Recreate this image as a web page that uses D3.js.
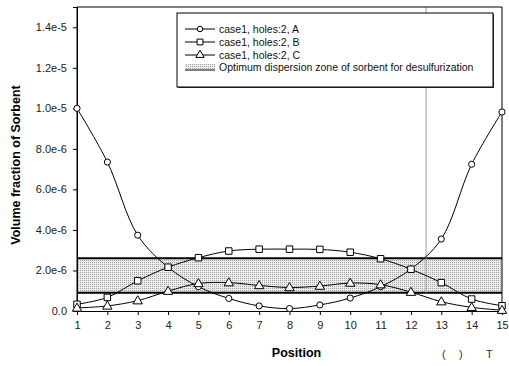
<!DOCTYPE html>
<html>
<head>
<meta charset="utf-8">
<script src="https://cdn.jsdelivr.net/npm/d3@7"></script>
<style>
  body { margin: 0; background: #fff; }
  text { font-family: "Liberation Sans", Arial, sans-serif; }
</style>
</head>
<body>
<div id="chart"></div>
<script>
const positions = [1, 2, 3, 4, 5, 6, 7, 8, 9, 10, 11, 12, 13, 14, 15];
const seriesA = [10.0e-6, 7.35e-6, 3.74e-6, 2.16e-6, 1.2e-6, 0.62e-6, 0.25e-6, 0.12e-6, 0.3e-6, 0.64e-6, 1.2e-6, 2.07e-6, 3.55e-6, 7.24e-6, 9.82e-6];
const seriesB = [0.33e-6, 0.67e-6, 1.49e-6, 2.16e-6, 2.63e-6, 2.96e-6, 3.05e-6, 3.05e-6, 3.04e-6, 2.9e-6, 2.58e-6, 2.06e-6, 1.4e-6, 0.59e-6, 0.26e-6];
const seriesC = [0.15e-6, 0.25e-6, 0.51e-6, 0.98e-6, 1.36e-6, 1.4e-6, 1.26e-6, 1.16e-6, 1.23e-6, 1.38e-6, 1.3e-6, 0.93e-6, 0.46e-6, 0.18e-6, 0.04e-6];
const seriesNames = ['case1, holes:2, A', 'case1, holes:2, B', 'case1, holes:2, C'];
const zoneLabel = 'Optimum dispersion zone of sorbent for desulfurization';
const zone = [0.9e-6, 2.6e-6];
const markerAt = 12.5;
const yTicks = [0, 2e-6, 4e-6, 6e-6, 8e-6, 10e-6, 12e-6, 14e-6];
const yTickLabels = ['0.0', '2.0e-6', '4.0e-6', '6.0e-6', '8.0e-6', '1.0e-5', '1.2e-5', '1.4e-5'];

const width = 509, height = 366;
const margin = {left: 77, right: 7, top: 7, bottom: 55};

const svg = d3.select('#chart').append('svg').attr('width', width).attr('height', height);

const defs = svg.append('defs');
const pat = defs.append('pattern').attr('id', 'stipple').attr('patternUnits', 'userSpaceOnUse')
  .attr('width', 2).attr('height', 2);
pat.append('rect').attr('width', 2).attr('height', 2).attr('fill', '#ececec');
pat.append('rect').attr('width', 1).attr('height', 1).attr('fill', '#a4a4a4');

const x = d3.scaleLinear().domain([1, 15]).range([margin.left, width - margin.right]);
const y = d3.scaleLinear().domain([0, 1.5e-5]).range([height - margin.bottom, margin.top]);

// zone band
svg.append('rect')
  .attr('x', x(1)).attr('width', x(15) - x(1))
  .attr('y', y(zone[1])).attr('height', y(zone[0]) - y(zone[1]))
  .attr('fill', 'url(#stipple)');
zone.forEach(v => {
  svg.append('line').attr('x1', x(1)).attr('x2', x(15)).attr('y1', y(v)).attr('y2', y(v))
    .attr('stroke', '#000').attr('stroke-width', 2);
});

// vertical marker
svg.append('line').attr('x1', x(markerAt)).attr('x2', x(markerAt))
  .attr('y1', y(1.5e-5)).attr('y2', y(zone[0]))
  .attr('stroke', '#999').attr('stroke-width', 1);

// frame
svg.append('path')
  .attr('d', `M${x(1)},${y(0)}V${y(1.5e-5)}H${x(15)}V${y(0)}`)
  .attr('fill', 'none').attr('stroke', '#000').attr('stroke-width', 1);

// axes
const xAxis = svg.append('g').attr('transform', `translate(0,${y(0)})`)
  .call(d3.axisBottom(x).tickValues(positions).tickFormat(d3.format('d')).tickSize(4).tickPadding(6));
const yAxis = svg.append('g').attr('transform', `translate(${x(1)},0)`)
  .call(d3.axisLeft(y).tickValues(yTicks).tickFormat((d, i) => yTickLabels[i]).tickSize(4).tickPadding(6));
[xAxis, yAxis].forEach(g => {
  g.select('.domain').attr('stroke', '#000');
  g.selectAll('.tick line').attr('stroke', '#000');
  g.selectAll('.tick text').attr('font-size', 11).attr('fill', '#222')
    .attr('font-family', '"Liberation Sans", Arial, sans-serif');
});

// axis titles
svg.append('text').attr('x', (x(1) + x(15)) / 2 + 7).attr('y', 357)
  .attr('text-anchor', 'middle').attr('font-size', 12.5).attr('font-weight', 'bold').text('Position');
svg.append('text').attr('transform', `translate(20,${(y(0) + y(1.5e-5)) / 2 + 6}) rotate(-90)`)
  .attr('text-anchor', 'middle').attr('font-size', 12.5).attr('font-weight', 'bold').text('Volume fraction of Sorbent');

// series
const line = d3.line().x((d, i) => x(positions[i])).y(d => y(d)).curve(d3.curveCatmullRom.alpha(0.5));
const allSeries = [seriesA, seriesB, seriesC];
const symbols = [d3.symbolCircle, d3.symbolSquare, d3.symbolTriangle];
const symSizes = [30, 42, 38];

allSeries.forEach((s, k) => {
  svg.append('path').attr('d', line(s)).attr('fill', 'none').attr('stroke', '#000').attr('stroke-width', 1);
});
allSeries.forEach((s, k) => {
  svg.append('g').selectAll('path').data(s).join('path')
    .attr('transform', (d, i) => `translate(${x(positions[i])},${y(d) + (k === 2 ? 0.5 : 0)})`)
    .attr('d', d3.symbol().type(symbols[k]).size(symSizes[k]))
    .attr('fill', '#fff').attr('stroke', '#000').attr('stroke-width', 1);
});

// legend
const lg = svg.append('g');
lg.append('rect').attr('x', 178).attr('y', 14).attr('width', 316).attr('height', 74).attr('fill', '#333');
lg.append('rect').attr('x', 177).attr('y', 13).attr('width', 316).attr('height', 74)
  .attr('fill', '#fff').attr('stroke', '#000').attr('stroke-width', 1);
const rowY = [29, 42, 55];
rowY.forEach((ry, k) => {
  lg.append('line').attr('x1', 185).attr('x2', 215).attr('y1', ry).attr('y2', ry).attr('stroke', '#000');
  lg.append('path').attr('transform', `translate(200,${ry})`)
    .attr('d', d3.symbol().type(symbols[k]).size(symSizes[k] * 0.8))
    .attr('fill', '#fff').attr('stroke', '#000');
  lg.append('text').attr('x', 219).attr('y', ry + 3.5).attr('font-size', 10.5).attr('fill', '#111').text(seriesNames[k]);
});
lg.append('rect').attr('x', 185).attr('y', 64).attr('width', 30).attr('height', 5).attr('fill', 'url(#stipple)');
lg.append('line').attr('x1', 185).attr('x2', 215).attr('y1', 70).attr('y2', 70).attr('stroke', '#000');
lg.append('text').attr('x', 219).attr('y', 71).attr('font-size', 10.5).attr('fill', '#111').text(zoneLabel);

// caption fragment
svg.append('text').attr('x', 442).attr('y', 358).attr('font-size', 11).attr('fill', '#333').text('(');
svg.append('text').attr('x', 459).attr('y', 358).attr('font-size', 11).attr('fill', '#333').text(')');
svg.append('text').attr('x', 486).attr('y', 358).attr('font-size', 11).attr('fill', '#333').text('T');
</script>
</body>
</html>
